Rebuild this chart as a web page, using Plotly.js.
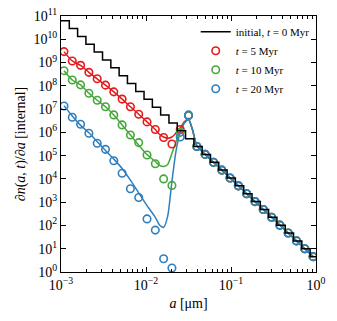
<!DOCTYPE html>
<html>
<head>
<meta charset="utf-8">
<script src="https://cdn.plot.ly/plotly-3.0.1.min.js"></script>
<style>
  html, body { margin: 0; padding: 0; background: #fff; }
  #g0 { width: 337px; height: 321px; }
</style>
</head>
<body>
<div id="g0"></div>
<script>
// bin edges of the initial size distribution [micron]
const binEdges = [1.000e-3, 1.252e-3, 1.568e-3, 1.964e-3, 2.459e-3, 3.080e-3, 3.857e-3, 4.830e-3,
  6.048e-3, 7.574e-3, 9.484e-3, 1.188e-2, 1.487e-2, 1.862e-2, 2.332e-2, 2.920e-2, 3.657e-2,
  4.580e-2, 5.735e-2, 7.182e-2, 8.995e-2, 0.1126, 0.1411, 0.1767, 0.2212, 0.2770, 0.3469,
  0.4345, 0.5441, 0.6813, 0.8531, 1.0];

// initial, t = 0 Myr (one value per bin)
const initial = [6.31e10, 2.90e10, 1.33e10, 6.11e9, 2.81e9, 1.29e9, 5.92e8, 2.72e8, 1.25e8,
  5.73e7, 2.63e7, 1.21e7, 5.55e6, 2.55e6, 1.17e6, 5.37e5, 2.47e5, 1.13e5, 5.20e4, 2.39e4,
  1.10e4, 5.04e3, 2.31e3, 1.06e3, 488, 224, 103, 47.2, 21.7, 9.95, 4.57];

// sample points (circles)
const aPoints = [1.084e-3, 1.357e-3, 1.700e-3, 2.129e-3, 2.666e-3, 3.339e-3, 4.181e-3, 5.236e-3,
  6.556e-3, 8.211e-3, 1.028e-2, 1.287e-2, 1.612e-2, 2.019e-2, 2.528e-2, 3.166e-2, 3.965e-2,
  4.965e-2, 6.218e-2, 7.787e-2, 9.750e-2, 0.1221, 0.1529, 0.1915, 0.2398, 0.3003, 0.3760,
  0.4709, 0.5897, 0.7384, 0.9247];

const pts5 = [2.95e9, 1.17e9, 7.59e8, 3.80e8, 2.00e8, 1.07e8, 5.50e7, 2.69e7, 1.26e7, 6.03e6,
  2.82e6, 1.32e6, 6.03e5, 3.16e5, 1.32e6, 5.25e6, 2.47e5, 1.13e5, 5.20e4, 2.39e4, 1.10e4,
  5.04e3, 2.31e3, 1.06e3, 488, 224, 103, 47.2, 21.7, 9.95, 4.57];
const pts10 = [4.47e8, 1.78e8, 1.10e8, 4.79e7, 2.40e7, 1.26e7, 5.62e6, 2.09e6, 7.76e5, 3.63e5,
  1.07e5, 4.47e4, 1.00e4, 5.25e3, 1.00e6, 5.25e6, 2.47e5, 1.13e5, 5.20e4, 2.39e4, 1.10e4,
  5.04e3, 2.31e3, 1.06e3, 488, 224, 103, 47.2, 21.7, 9.95, 4.57];
const pts20 = [1.35e7, 4.47e6, 2.24e6, 9.12e5, 3.39e5, 1.86e5, 6.03e4, 1.74e4, 3.80e3, 1.58e3,
  191, 63.1, 3.72, 1.48, 6.31e5, 5.62e6, 2.47e5, 1.13e5, 5.20e4, 2.39e4, 1.10e4,
  5.04e3, 2.31e3, 1.06e3, 488, 224, 103, 47.2, 21.7, 9.95, 4.57];

// continuous solutions (lines)
const aLine = [1.084e-3, 1.357e-3, 1.700e-3, 2.129e-3, 2.666e-3, 3.339e-3, 4.181e-3, 5.236e-3,
  6.556e-3, 8.211e-3, 1.028e-2, 1.287e-2, 1.441e-2, 1.612e-2, 1.800e-2, 2.019e-2, 2.254e-2,
  2.528e-2, 2.822e-2, 3.166e-2, 3.533e-2, 3.965e-2, 4.965e-2, 6.218e-2, 7.787e-2, 9.750e-2,
  0.1221, 0.1529, 0.1915, 0.2398, 0.3003, 0.3760, 0.4709, 0.5897, 0.7384, 0.9247];

const line5 = [2.95e9, 1.17e9, 7.59e8, 3.80e8, 2.00e8, 1.07e8, 5.50e7, 2.69e7, 1.26e7, 6.03e6,
  2.82e6, 1.32e6, 8.32e5, 6.31e5, 5.62e5, 6.31e5, 9.55e5, 1.58e6, 2.82e6, 3.72e6, 1.26e6,
  2.60e5, 1.13e5, 5.20e4, 2.39e4, 1.10e4, 5.04e3, 2.31e3, 1.06e3, 488, 224, 103, 47.2, 21.7,
  9.95, 4.57];
const line10 = [4.47e8, 1.78e8, 1.10e8, 4.79e7, 2.40e7, 1.26e7, 5.62e6, 2.09e6, 7.76e5, 2.82e5,
  1.12e5, 5.62e4, 3.80e4, 3.39e4, 4.17e4, 1.26e5, 3.98e5, 1.12e6, 2.51e6, 3.55e6, 1.26e6,
  2.60e5, 1.13e5, 5.20e4, 2.39e4, 1.10e4, 5.04e3, 2.31e3, 1.06e3, 488, 224, 103, 47.2, 21.7,
  9.95, 4.57];
const line20 = [1.41e7, 5.01e6, 2.00e6, 9.55e5, 3.98e5, 1.66e5, 7.08e4, 2.82e4, 8.91e3, 2.51e3,
  708, 224, 105, 83.2, 251, 7.94e3, 1.58e5, 1.00e6, 2.51e6, 3.55e6, 1.26e6,
  2.60e5, 1.13e5, 5.20e4, 2.39e4, 1.10e4, 5.04e3, 2.31e3, 1.06e3, 488, 224, 103, 47.2, 21.7,
  9.95, 4.57];

// tick labels
const xTickVals = [1e-3, 1e-2, 1e-1, 1];
const xTickText = ['10<sup>−3</sup>', '10<sup>−2</sup>', '10<sup>−1</sup>', '10<sup>0</sup>'];
const yTickVals = [1, 1e1, 1e2, 1e3, 1e4, 1e5, 1e6, 1e7, 1e8, 1e9, 1e10, 1e11];
const yTickText = ['10<sup>0</sup>', '10<sup>1</sup>', '10<sup>2</sup>', '10<sup>3</sup>',
  '10<sup>4</sup>', '10<sup>5</sup>', '10<sup>6</sup>', '10<sup>7</sup>', '10<sup>8</sup>',
  '10<sup>9</sup>', '10<sup>10</sup>', '10<sup>11</sup>'];

const colors = ['#e41a1c', '#45a83a', '#2f7fbf'];
const names = ['<i>t</i> = 5 Myr', '<i>t</i> = 10 Myr', '<i>t</i> = 20 Myr'];
const lines = [line5, line10, line20];
const points = [pts5, pts10, pts20];

let data = [];

lines.forEach((ys, i) => {
  data.push({x: aLine, y: ys, type: 'scatter', mode: 'lines', showlegend: false,
    line: {color: colors[i], width: 1.5, shape: 'spline', smoothing: 0.6}, hoverinfo: 'skip'});
});

points.forEach((ys, i) => {
  data.push({x: aPoints, y: ys, type: 'scatter', mode: 'markers', name: names[i],
    legendrank: 2 + i,
    marker: {symbol: 'circle-open', size: 7.5, color: colors[i], line: {width: 1.6, color: colors[i]}}});
});

data.push({x: binEdges, y: initial.concat([initial[initial.length - 1]]), type: 'scatter',
  mode: 'lines', name: 'initial, <i>t</i> = 0 Myr', legendrank: 1,
  line: {color: '#000', width: 1.5, shape: 'hv'}});

const font = {family: 'Liberation Serif, serif', size: 14, color: '#000'};

const layout = {
  width: 337, height: 321,
  margin: {l: 61, r: 21, t: 16, b: 49},
  paper_bgcolor: '#fff', plot_bgcolor: '#fff',
  font: font,
  showlegend: true,
  legend: {x: 0.995, y: 0.995, xanchor: 'right', yanchor: 'top', bgcolor: 'rgba(0,0,0,0)',
    font: {family: 'Liberation Serif, serif', size: 11}, tracegroupgap: 0},
  xaxis: {
    type: 'log', range: [-3, 0], tickmode: 'array', tickvals: xTickVals, ticktext: xTickText,
    showgrid: false, zeroline: false, showline: true, linecolor: '#000', linewidth: 1,
    mirror: 'ticks', ticks: 'inside', ticklen: 5, tickcolor: '#000',
    minor: {ticks: 'inside', ticklen: 3, dtick: 'D1', tickcolor: '#000', showgrid: false},
    title: {text: '<i>a</i> [μm]', font: font, standoff: 6}
  },
  yaxis: {
    type: 'log', range: [0, 11], tickmode: 'array', tickvals: yTickVals, ticktext: yTickText,
    showgrid: false, zeroline: false, showline: true, linecolor: '#000', linewidth: 1,
    mirror: 'ticks', ticks: 'inside', ticklen: 5, tickcolor: '#000',
    title: {text: '∂<i>n</i>(<i>a</i>, <i>t</i>)/∂<i>a</i> [internal]', font: font, standoff: 4}
  }
};

Plotly.newPlot('g0', data, layout, {displayModeBar: false, staticPlot: true});
</script>
</body>
</html>
